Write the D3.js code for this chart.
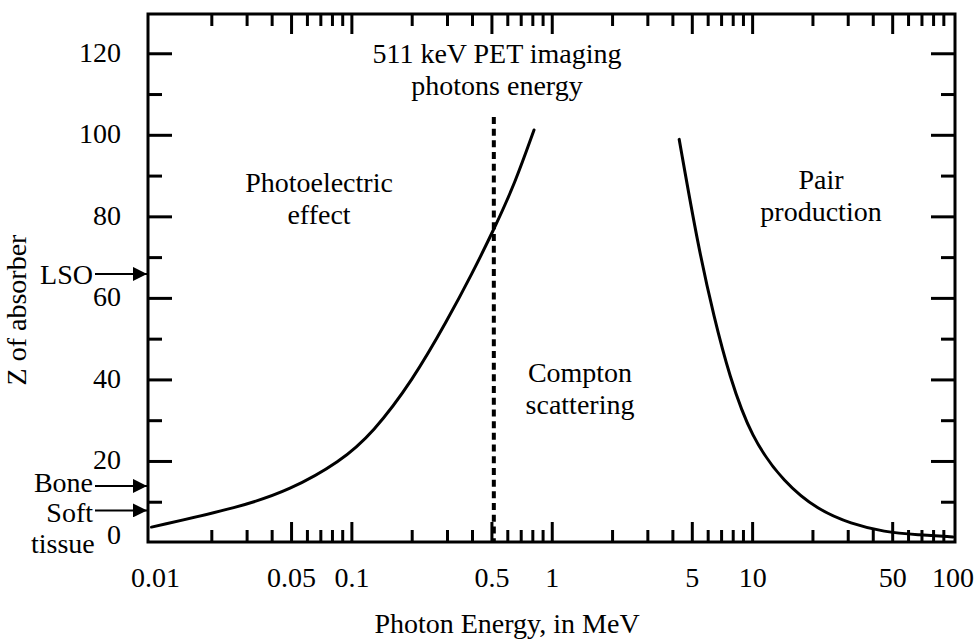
<!DOCTYPE html>
<html>
<head>
<meta charset="utf-8">
<script src="https://cdn.jsdelivr.net/npm/d3@7"></script>
<style>
  body { margin: 0; background: #fff; }
  svg text { font-family: "Liberation Serif", "DejaVu Serif", serif; fill: #000; }
</style>
</head>
<body>
<svg id="chart" width="975" height="639"></svg>
<script>
(function () {
    'use strict';

    // boundary photoelectric / compton (MeV, Z)
    var leftE = [0.01, 0.0277, 0.0491, 0.0873, 0.1275, 0.2018, 0.2984, 0.3978, 0.518, 0.652, 0.811];
    var leftZ = [3.9, 8.8, 13.0, 19.9, 27.0, 40.0, 54.5, 66.0, 77.5, 88.3, 101.3];

    // boundary compton / pair production (MeV, Z)
    var rightE = [4.3, 5.35, 6.43, 7.63, 9.83, 14.4, 21.2, 31, 45.3, 66.9, 100];
    var rightZ = [99, 72.6, 55.2, 41.2, 25.8, 14.7, 8.1, 4.7, 2.7, 2, 1.5];

    var xLabels = [0.01, 0.05, 0.1, 0.5, 1, 5, 10, 50, 100];
    var yLabels = [0, 20, 40, 60, 80, 100, 120];
    var yTicks = [10, 20, 30, 40, 50, 60, 70, 80, 90, 100, 110, 120];

    var petEnergy = 0.511, petTop = 104.5;
    var markerNames = [["LSO"], ["Bone"], ["Soft", "tissue"]];
    var markerZ = [66, 14, 8];

    var svg = d3.select("#chart");
    var x = d3.scaleLog().domain([0.01, 100]).range([151.5, 953]);
    var y = d3.scaleLinear().domain([0, 130]).range([543, 13]);

    var left = 148, right = 955, top = 14, bottom = 542;
    var fs = 28;

    // frame
    svg.append("rect")
        .attr("x", left).attr("y", top)
        .attr("width", right - left).attr("height", bottom - top)
        .attr("fill", "none").attr("stroke", "#000").attr("stroke-width", 3);

    // x ticks, top and bottom, pointing in
    var xt = x.ticks().filter(d => d > 0.01 && d < 100);
    function isMajor(d) {
        var m = d / Math.pow(10, Math.floor(Math.log10(d) + 1e-9));
        return Math.abs(m - 1) < 1e-6 || Math.abs(m - 5) < 1e-6;
    }
    var tk = svg.append("g").attr("stroke", "#000").attr("stroke-width", 3);
    xt.forEach(function (d) {
        var len = isMajor(d) ? 20 : 12;
        tk.append("line").attr("x1", x(d)).attr("x2", x(d))
            .attr("y1", bottom).attr("y2", bottom - len);
        tk.append("line").attr("x1", x(d)).attr("x2", x(d))
            .attr("y1", top).attr("y2", top + len);
    });
    yTicks.forEach(function (d) {
        var len = d % 20 === 0 ? 24 : 14;
        tk.append("line").attr("y1", y(d)).attr("y2", y(d))
            .attr("x1", left).attr("x2", left + len);
        tk.append("line").attr("y1", y(d)).attr("y2", y(d))
            .attr("x1", right).attr("x2", right - len);
    });

    // tick labels
    var fmt = d3.format("~g");
    svg.append("g").selectAll("text").data(xLabels).enter().append("text")
        .attr("x", d => x(d) + (d === 0.01 ? 4 : 0)).attr("y", 587)
        .attr("text-anchor", "middle").attr("font-size", fs)
        .text(d => fmt(d));
    svg.append("g").selectAll("text").data(yLabels).enter().append("text")
        .attr("x", 121).attr("y", d => y(d) + (d === 0 ? -9 : -2))
        .attr("dy", "0.35em")
        .attr("text-anchor", "end").attr("font-size", fs)
        .text(d => d);

    // curves
    var line = d3.line()
        .x(d => x(d[0])).y(d => y(d[1]))
        .curve(d3.curveBasis);
    [d3.zip(leftE, leftZ), d3.zip(rightE, rightZ)].forEach(function (pts) {
        svg.append("path").attr("d", line(pts))
            .attr("fill", "none").attr("stroke", "#000")
            .attr("stroke-width", 3).attr("stroke-linecap", "round");
    });

    // 511 keV line
    svg.append("line")
        .attr("x1", x(petEnergy)).attr("x2", x(petEnergy))
        .attr("y1", y(petTop)).attr("y2", bottom)
        .attr("stroke", "#000").attr("stroke-width", 4)
        .attr("stroke-dasharray", "7,4.7");

    // region labels
    function label(lines, cx, cy) {
        var t = svg.append("text").attr("text-anchor", "middle").attr("font-size", fs);
        lines.forEach(function (s, i) {
            t.append("tspan").attr("x", cx).attr("y", cy + i * 32).text(s);
        });
    }
    label(["511 keV PET imaging", "photons energy"], 497, 63);
    label(["Photoelectric", "effect"], 319, 192);
    label(["Pair", "production"], 821, 189);
    label(["Compton", "scattering"], 580, 382);

    // material markers with arrows
    svg.append("defs").append("marker")
        .attr("id", "ah").attr("viewBox", "0 0 10 10")
        .attr("refX", 10).attr("refY", 5)
        .attr("markerWidth", 15).attr("markerHeight", 14)
        .attr("markerUnits", "userSpaceOnUse")
        .attr("orient", "auto")
        .append("path").attr("d", "M0,0L10,5L0,10Z").attr("fill", "#000");

    var baseShift = [10, 6, 12];
    markerNames.forEach(function (name, k) {
        var yy = y(markerZ[k]);
        svg.append("line").attr("x1", 95).attr("x2", 147)
            .attr("y1", yy).attr("y2", yy)
            .attr("stroke", "#000").attr("stroke-width", 2)
            .attr("marker-end", "url(#ah)");
        var t = svg.append("text").attr("font-size", fs);
        name.forEach(function (s, i) {
            t.append("tspan")
                .attr("text-anchor", i === 0 ? "end" : "start")
                .attr("x", i === 0 ? 93 : 31)
                .attr("y", yy + baseShift[k] + i * 31)
                .text(s);
        });
    });

    // axis titles
    svg.append("text")
        .attr("transform", "translate(26,310) rotate(-90)")
        .attr("text-anchor", "middle").attr("font-size", fs)
        .text("Z of absorber");
    svg.append("text")
        .attr("x", 507).attr("y", 633)
        .attr("text-anchor", "middle").attr("font-size", fs)
        .text("Photon Energy, in MeV");
}());
</script>
</body>
</html>
